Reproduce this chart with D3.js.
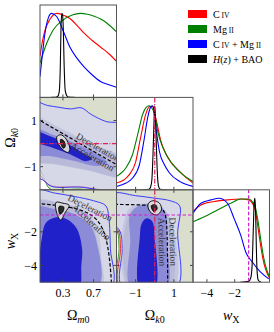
<!DOCTYPE html>
<html>
<head>
<meta charset="utf-8">
<script src="https://cdn.jsdelivr.net/npm/d3@7"></script>
<style>
  body { margin: 0; background: #fff; }
  svg text { font-family: "Liberation Serif", "DejaVu Serif", serif; fill: #000; }
</style>
</head>
<body>
<svg id="chart" width="274" height="332"></svg>
<script>
// parameters, plot ranges, ticks
const params = ["om", "ok", "w"];
const ranges = { om: [0, 1], ok: [-2, 2], w: [-5, 0.5] };
const tickVals = { om: [0.3, 0.7], ok: [-1, 1], w: [-4, -2] };
const tickText = { om: ["0.3", "0.7"], ok: ["\u22121", "1"], w: ["\u22124", "\u22122"] };

// 1D marginals, peak = 1
const omCIV = [[0,0.49],[0.03,0.66],[0.066,0.8],[0.13,0.93],[0.22,1.0],[0.3,0.98],[0.39,0.94],[0.5,0.84],[0.57,0.77],[0.68,0.68],[0.79,0.6],[0.9,0.52],[1.0,0.43]];
const omMgII = [[0,0.41],[0.05,0.55],[0.09,0.65],[0.17,0.8],[0.3,0.92],[0.42,0.98],[0.53,1.0],[0.62,0.99],[0.7,0.97],[0.8,0.93],[0.88,0.88],[1.0,0.78]];
const omBoth = [[0,0.25],[0.03,0.5],[0.066,0.77],[0.11,0.95],[0.15,1.0],[0.22,0.96],[0.3,0.8],[0.39,0.6],[0.48,0.47],[0.57,0.37],[0.68,0.27],[0.79,0.19],[0.9,0.15],[1.0,0.12]];
const omBAO = [[0.15,0],[0.2,0.002],[0.23,0.01],[0.25,0.06],[0.265,0.35],[0.275,0.85],[0.285,1.0],[0.295,0.98],[0.305,0.8],[0.315,0.4],[0.33,0.08],[0.35,0.02],[0.37,0.005],[0.45,0]];

const okCIV = [[-2,0.08],[-1.6,0.12],[-1.33,0.18],[-1.0,0.33],[-0.74,0.62],[-0.47,0.9],[-0.28,0.99],[-0.1,0.99],[0.05,0.86],[0.32,0.58],[0.6,0.42],[0.84,0.33],[1.2,0.24],[1.47,0.18],[2.0,0.08]];
const okMgII = [[-2,0.16],[-1.75,0.2],[-1.51,0.26],[-1.16,0.42],[-0.89,0.66],[-0.63,0.9],[-0.45,0.98],[-0.3,1.0],[-0.21,0.99],[-0.01,0.9],[0.16,0.69],[0.43,0.5],[0.95,0.3],[1.47,0.18],[2.0,0.1]];
const okBoth = [[-2,0.04],[-1.5,0.08],[-1.16,0.14],[-0.8,0.3],[-0.54,0.62],[-0.37,0.86],[-0.2,0.99],[-0.12,1.0],[-0.07,0.98],[0.06,0.74],[0.25,0.45],[0.5,0.3],[0.77,0.2],[1.3,0.1],[2.0,0.04]];
const okBAO = [[-0.6,0],[-0.3,0.005],[-0.22,0.03],[-0.15,0.12],[-0.08,0.5],[-0.03,0.88],[0,1.0],[0.03,0.9],[0.08,0.55],[0.14,0.18],[0.2,0.04],[0.28,0.005],[0.6,0]];

const wCIV = [[-5,0.84],[-4.43,0.92],[-3.48,0.96],[-2.52,0.98],[-1.57,0.99],[-0.98,0.98],[-0.7,0.93],[-0.5,0.84],[-0.3,0.62],[-0.14,0.44],[0.05,0.26],[0.21,0.16],[0.5,0.05]];
const wMgII = [[-5,0.72],[-4.19,0.78],[-3.24,0.86],[-2.29,0.94],[-1.57,0.99],[-0.98,0.99],[-0.7,0.95],[-0.5,0.88],[-0.3,0.7],[-0.14,0.52],[0.05,0.32],[0.21,0.2],[0.5,0.06]];
const wBoth = [[-5,0.82],[-4.43,0.94],[-3.71,0.98],[-3.12,1.0],[-2.52,0.94],[-2.05,0.76],[-1.57,0.56],[-1.21,0.36],[-0.74,0.24],[-0.14,0.12],[0.45,0.04]];
const wBAO = [[-1.6,0],[-1.0,0.01],[-0.85,0.05],[-0.75,0.2],[-0.67,0.6],[-0.6,0.95],[-0.55,1.0],[-0.5,0.85],[-0.45,0.45],[-0.4,0.15],[-0.3,0.02],[-0.1,0]];

// 2D contours (outer to inner), points in data units
const omOkMgII = [
  [[-0.1,2.4],[1.1,2.4],[1.1,-1.97],[0.5,-1.97],[0.13,-1.96],[0.06,-1.55],[0.0,-1.15],[-0.1,-0.9]],
  [[-0.1,1.15],[0.3,0.62],[0.7,-0.05],[1.1,-0.65],[1.1,-1.45],[0.6,-1.12],[0.2,-0.88],[-0.1,-0.7]]
];
const omOkCIV = [
  [[-0.1,2.4],[1.1,2.4],[1.1,-1.85],[0.5,-1.86],[0.15,-1.82],[0.05,-1.6],[0.0,-1.35],[-0.1,-1.2]],
  [[-0.1,1.0],[0.3,0.5],[0.7,-0.15],[1.1,-0.7],[1.1,-1.4],[0.6,-1.15],[0.2,-0.9],[-0.1,-0.75]]
];
const omOkBoth = [
  [[-0.1,1.8],[0.1,1.65],[0.25,1.57],[0.4,1.5],[0.54,1.55],[0.67,1.26],[0.86,0.96],[1.1,0.78],[1.1,-1.9],[0.5,-1.88],[0.15,-1.85],[0.05,-1.6],[-0.1,-1.3]],
  [[-0.1,0.62],[0.2,0.35],[0.5,-0.05],[0.78,-0.5],[0.88,-0.85],[0.75,-0.97],[0.45,-0.75],[0.15,-0.55],[-0.1,-0.45]],
  [[-0.1,0.55],[0.15,0.3],[0.35,0.02],[0.55,-0.38],[0.68,-0.66],[0.6,-0.76],[0.4,-0.47],[0.2,-0.22],[0.0,-0.02],[-0.1,0.05]]
];
const omOkBAO = [
  [[0.22,0.3],[0.27,0.38],[0.33,0.25],[0.39,-0.2],[0.37,-0.38],[0.31,-0.3],[0.23,0.05]],
  [[0.27,0.18],[0.31,0.12],[0.33,-0.1],[0.31,-0.2],[0.28,-0.08]]
];

const omWMgII = [
  [[-0.1,0.8],[1.1,0.8],[1.1,-5.3],[-0.1,-5.3]],
  [[-0.1,-0.2],[0.3,-0.3],[0.6,-0.8],[0.75,-1.8],[0.8,-3.5],[0.8,-5.3],[-0.1,-5.3]]
];
const omWCIV = [
  [[-0.1,0.8],[1.1,0.8],[1.1,-5.3],[-0.1,-5.3]],
  [[-0.1,-0.3],[0.3,-0.35],[0.6,-0.9],[0.72,-2.0],[0.75,-5.3],[-0.1,-5.3]]
];
const omWBoth = [
  [[-0.1,0.45],[0.2,0.3],[0.45,0.1],[0.7,-0.15],[0.86,-0.45],[0.9,-1.2],[0.92,-3],[0.93,-5.3],[-0.1,-5.3]],
  [[-0.1,-0.55],[0.2,-0.65],[0.45,-0.95],[0.65,-1.6],[0.74,-2.6],[0.76,-5.3],[-0.1,-5.3]],
  [[0.03,-2.2],[0.08,-1.45],[0.2,-1.15],[0.35,-1.25],[0.48,-1.8],[0.55,-3.0],[0.54,-4.0],[0.5,-5.4],[0.03,-5.4]]
];
const omWBAO = [
  [[0.21,-0.25],[0.3,-0.3],[0.38,-0.42],[0.33,-0.85],[0.27,-1.3],[0.22,-0.9]],
  [[0.25,-0.5],[0.31,-0.52],[0.3,-0.8],[0.26,-0.95]]
];

const okWMgII = [
  [[-2.2,0.8],[2.2,0.8],[2.2,-5.3],[-1.88,-5.3],[-1.87,-3.0],[-1.95,-2.0],[-2.2,-1.6]],
  [[-1.3,-0.8],[-0.5,-0.4],[0.4,-0.6],[0.9,-1.5],[1.0,-5.3],[-1.3,-5.3]]
];
const okWCIV = [
  [[-2.2,0.8],[2.2,0.8],[2.2,-5.3],[-1.8,-5.3],[-1.79,-3.0],[-1.88,-2.0],[-2.2,-1.5]],
  [[-1.4,-0.7],[-0.5,-0.3],[0.3,-0.45],[0.75,-1.2],[0.8,-5.3],[-1.4,-5.3]]
];
const okWBoth = [
  [[-2.2,0.25],[-1.0,0.15],[0.0,0.0],[0.8,-0.15],[1.3,-0.45],[1.2,-2],[1.15,-5.3],[-1.7,-5.3],[-1.7,-3],[-1.8,-2.0],[-2.2,-1.4]],
  [[-1.3,-1.0],[-0.9,-0.5],[-0.3,-0.35],[0.3,-0.5],[0.6,-1.0],[0.62,-2.5],[0.62,-5.3],[-1.25,-5.3],[-1.28,-2.5]],
  [[-0.78,-2.3],[-0.68,-1.5],[-0.42,-1.2],[-0.12,-1.4],[-0.02,-2.2],[0.0,-5.4],[-0.78,-5.4]]
];
const okWBAO = [
  [[-0.35,-0.35],[-0.1,-0.15],[0.25,-0.3],[0.35,-0.7],[0.1,-1.0],[-0.25,-0.8]],
  [[-0.18,-0.45],[0.05,-0.4],[0.12,-0.65],[-0.05,-0.8]]
];

// fiducial values for the q0 = 0 boundary
const omFid = 0.3, okFid = 0, wFid = -0.7;

const legendNames = ["C IV", "Mg II", "C IV + Mg II", "H(z) + BAO"];

// ---------------------------------------------------------------
const colors = ["#ff0000", "#008000", "#0000ff", "#000000"];
const svg = d3.select("#chart");
const L = 40, T = 5, W = 76.5, H = 92.4;

const xScale = {}, yScale = {};
params.forEach((p, i) => {
  xScale[p] = d3.scaleLinear(ranges[p], [L + i * W, L + (i + 1) * W]);
  yScale[p] = d3.scaleLinear(ranges[p], [T + (i + 1) * H, T + i * H]);
});

const defs = svg.append("defs");
function panel(row, col) {
  const id = "clip" + row + col;
  defs.append("clipPath").attr("id", id).append("rect")
    .attr("x", L + col * W).attr("y", T + row * H).attr("width", W).attr("height", H);
  return svg.append("g").attr("clip-path", `url(#${id})`);
}

// diagonal: 1D marginals
const marg = {
  om: [omCIV, omMgII, omBoth, omBAO],
  ok: [okCIV, okMgII, okBoth, okBAO],
  w: [wCIV, wMgII, wBoth, wBAO]
};
const diagG = {};
params.forEach((p, i) => {
  const g = panel(i, i);
  diagG[p] = g;
  const yD = d3.scaleLinear([0, 1.1], [T + (i + 1) * H, T + i * H]);
  const line = d3.line().x(d => xScale[p](d[0])).y(d => yD(d[1])).curve(d3.curveMonotoneX);
  marg[p].forEach((arr, k) => {
    g.append("path").attr("d", line(arr))
      .attr("fill", "none").attr("stroke", colors[k]).attr("stroke-width", 1.1);
  });
});

// off-diagonal: 2D contours; styles follow the set order C IV, Mg II, both, BAO
const styles = [
  [{ fill: "#ecd6dc", op: 0.25, stroke: "#ee2020" }, { fill: "#a0a0d0", op: 0.3 }],
  [{ fill: "#d3dfc6", op: 0.95, stroke: "#2e8b2e" }, { fill: "#9a9ac8", op: 0.3 }],
  [{ fill: "#d4d4f4", op: 0.65, stroke: "#2b2bff" }, { fill: "#6d6dd6", op: 0.6 }, { fill: "#1818c8", op: 0.92 }],
  [{ fill: "#dcdcdc", op: 0.95, stroke: "#000" }, { fill: "#2b2b2b", op: 1, stroke: "#000" }]
];
// paint order: [set, level]
const paintOrder = [[1, 0], [0, 0], [2, 0], [1, 1], [0, 1], [2, 1], [2, 2]];
const pairs = [
  { row: 1, col: 0, xp: "om", yp: "ok", sets: [omOkCIV, omOkMgII, omOkBoth, omOkBAO] },
  { row: 2, col: 0, xp: "om", yp: "w", sets: [omWCIV, omWMgII, omWBoth, omWBAO] },
  { row: 2, col: 1, xp: "ok", yp: "w", sets: [okWCIV, okWMgII, okWBoth, okWBAO] }
];

// q0 = Om/2 + (1+3w)/2 (1 - Om - Ok) = 0
const boundary = {
  "om-ok": d3.range(-0.05, 1.06, 0.01).map(m => [m, 1 - m + m / (1 + 3 * wFid)]),
  "om-w": d3.range(-0.05, 0.99, 0.005).map(m => [m, (-m / (1 - m - okFid) - 1) / 3]),
  "ok-w": d3.range(-2.1, 0.699, 0.005).map(k => [k, (-omFid / (1 - omFid - k) - 1) / 3])
};
// where the Deceleration / Acceleration labels sit on the boundary
const labelAt = { "om-ok": [0.72, 0.72], "om-w": [0.62, 0.72], "ok-w": [-2.6, -2.6] };

pairs.forEach(pr => {
  const g = panel(pr.row, pr.col);
  pr.g = g;
  const x = xScale[pr.xp], y = yScale[pr.yp];
  const shape = d3.line().x(d => x(d[0])).y(d => y(d[1])).curve(d3.curveCatmullRomClosed.alpha(0.5));
  paintOrder.forEach(([k, lv]) => {
    const s = styles[k][lv];
    g.append("path").attr("d", shape(pr.sets[k][lv]))
      .attr("fill", s.fill).attr("fill-opacity", s.op)
      .attr("stroke", s.stroke || "none").attr("stroke-width", 0.9);
  });

  // acceleration / deceleration boundary
  const key = pr.xp + "-" + pr.yp;
  const bl = d3.line().x(d => x(d[0])).y(d => y(d[1]));
  g.append("path").attr("d", bl(boundary[key]))
    .attr("fill", "none").attr("stroke", "#000").attr("stroke-width", 1.2)
    .attr("stroke-dasharray", "3.5,2");

  const at = (t) => {
    if (key === "ok-w") return [x((-omFid / (-3 * t - 1)) + 1 - omFid), y(t)];
    if (key === "om-ok") return [x(t), y(1 - t + t / (1 + 3 * wFid))];
    return [x(t), y((-t / (1 - t - okFid) - 1) / 3)];
  };
  const step = key === "ok-w" ? -0.05 : 0.01;
  [["Deceleration", labelAt[key][0], -2.5], ["Acceleration", labelAt[key][1], 8.5]].forEach(([txt, t, dy]) => {
    const p = at(t), a = at(t - step), b = at(t + step);
    const ang = Math.atan2(b[1] - a[1], b[0] - a[0]) * 180 / Math.PI;
    g.append("text").attr("transform", `translate(${p[0]},${p[1]}) rotate(${ang})`)
      .attr("dy", dy).attr("text-anchor", "middle")
      .attr("font-size", 9.5).style("fill", "#333").text(txt);
  });

  // H(z)+BAO on top
  pr.sets[3].forEach((poly, lv) => {
    const s = styles[3][lv];
    g.append("path").attr("d", shape(poly))
      .attr("fill", s.fill).attr("fill-opacity", s.op)
      .attr("stroke", s.stroke).attr("stroke-width", 0.9);
  });
});

// reference lines: flat (Ok = 0) and w = -1
const flatStyle = { stroke: "#e0245a", dash: "5,1.5,1,1.5" };
const lamStyle = { stroke: "#d020d0", dash: "3.5,2" };
function refLine(g, x1, y1, x2, y2, st) {
  g.append("line").attr("x1", x1).attr("y1", y1).attr("x2", x2).attr("y2", y2)
    .attr("stroke", st.stroke).attr("stroke-width", 1.2).attr("stroke-dasharray", st.dash);
}
refLine(pairs[0].g, L, yScale.ok(0), L + W, yScale.ok(0), flatStyle);
refLine(diagG.ok, xScale.ok(0), T + H, xScale.ok(0), T + 2 * H, flatStyle);
refLine(pairs[2].g, xScale.ok(0), T + 2 * H, xScale.ok(0), T + 3 * H, flatStyle);
refLine(pairs[1].g, L, yScale.w(-1), L + W, yScale.w(-1), lamStyle);
refLine(pairs[2].g, L + W, yScale.w(-1), L + 2 * W, yScale.w(-1), lamStyle);
refLine(diagG.w, xScale.w(-1), T + 2 * H, xScale.w(-1), T + 3 * H, lamStyle);

// frames and inner ticks
const cells = [[0, 0], [1, 0], [1, 1], [2, 0], [2, 1], [2, 2]];
const tl = 3;
cells.forEach(([r, c]) => {
  const x0 = L + c * W, y0 = T + r * H;
  const px = params[c], py = params[r];
  tickVals[px].forEach(v => {
    const xx = xScale[px](v);
    svg.append("line").attr("x1", xx).attr("x2", xx).attr("y1", y0 + H).attr("y2", y0 + H - tl).attr("stroke", "#444");
    if (r !== c) svg.append("line").attr("x1", xx).attr("x2", xx).attr("y1", y0).attr("y2", y0 + tl).attr("stroke", "#444");
  });
  if (r !== c) {
    tickVals[py].forEach(v => {
      const yy = yScale[py](v);
      svg.append("line").attr("x1", x0).attr("x2", x0 + tl).attr("y1", yy).attr("y2", yy).attr("stroke", "#444");
      svg.append("line").attr("x1", x0 + W).attr("x2", x0 + W - tl).attr("y1", yy).attr("y2", yy).attr("stroke", "#444");
    });
  }
  svg.append("rect").attr("x", x0).attr("y", y0).attr("width", W).attr("height", H)
    .attr("fill", "none").attr("stroke", "#555").attr("stroke-width", 1);
});

// tick labels
params.forEach(p => {
  tickVals[p].forEach((v, k) => {
    svg.append("text").attr("x", xScale[p](v)).attr("y", T + 3 * H + 15)
      .attr("text-anchor", "middle").attr("font-size", 12).text(tickText[p][k]);
  });
});
["ok", "w"].forEach(p => {
  tickVals[p].forEach((v, k) => {
    svg.append("text").attr("x", L - 3).attr("y", yScale[p](v)).attr("dy", "0.35em")
      .attr("text-anchor", "end").attr("font-size", 12).text(tickText[p][k]);
  });
});

// axis titles
function title(tr, main, sub, subItalicFirst, mainItalic) {
  const t = svg.append("text").attr("transform", tr).attr("text-anchor", "middle").attr("font-size", 14);
  const m = t.append("tspan").text(main);
  if (mainItalic) m.attr("font-style", "italic");
  sub.forEach((s, i) => {
    const ts = t.append("tspan").attr("font-size", 10).text(s);
    if (i === 0) ts.attr("dy", 3);
    if (i === 0 && subItalicFirst) ts.attr("font-style", "italic");
  });
}
title(`translate(${xScale.om(0.5)},320)`, "\u03A9", ["m", "0"], true, false);
title(`translate(${xScale.ok(0)},320)`, "\u03A9", ["k", "0"], true, false);
title(`translate(${xScale.w(-2.25)},320)`, "w", ["X"], false, true);
title(`translate(15,${yScale.ok(0.25)}) rotate(-90)`, "\u03A9", ["k", "0"], true, false);
title(`translate(15,${yScale.w(-2.55)}) rotate(-90)`, "w", ["X"], false, true);

// legend
const lg = svg.append("g").attr("transform", "translate(188,10)");
legendNames.forEach((name, i) => {
  const row = lg.append("g").attr("transform", `translate(0,${i * 15})`);
  row.append("rect").attr("width", 19).attr("height", 8).attr("fill", colors[i]);
  const t = row.append("text").attr("x", 25).attr("y", 7.5).attr("font-size", 10);
  if (i === 3) {
    t.append("tspan").attr("font-style", "italic").text("H");
    t.append("tspan").text("(");
    t.append("tspan").attr("font-style", "italic").text("z");
    t.append("tspan").text(") + BAO");
  } else {
    name.split(" ").forEach((w, j) => {
      if (w === "IV" || w === "II") t.append("tspan").attr("font-size", 7.5).text(" " + w);
      else if (w === "+") t.append("tspan").text(" + ");
      else t.append("tspan").text(w);
    });
  }
});
</script>
</body>
</html>
